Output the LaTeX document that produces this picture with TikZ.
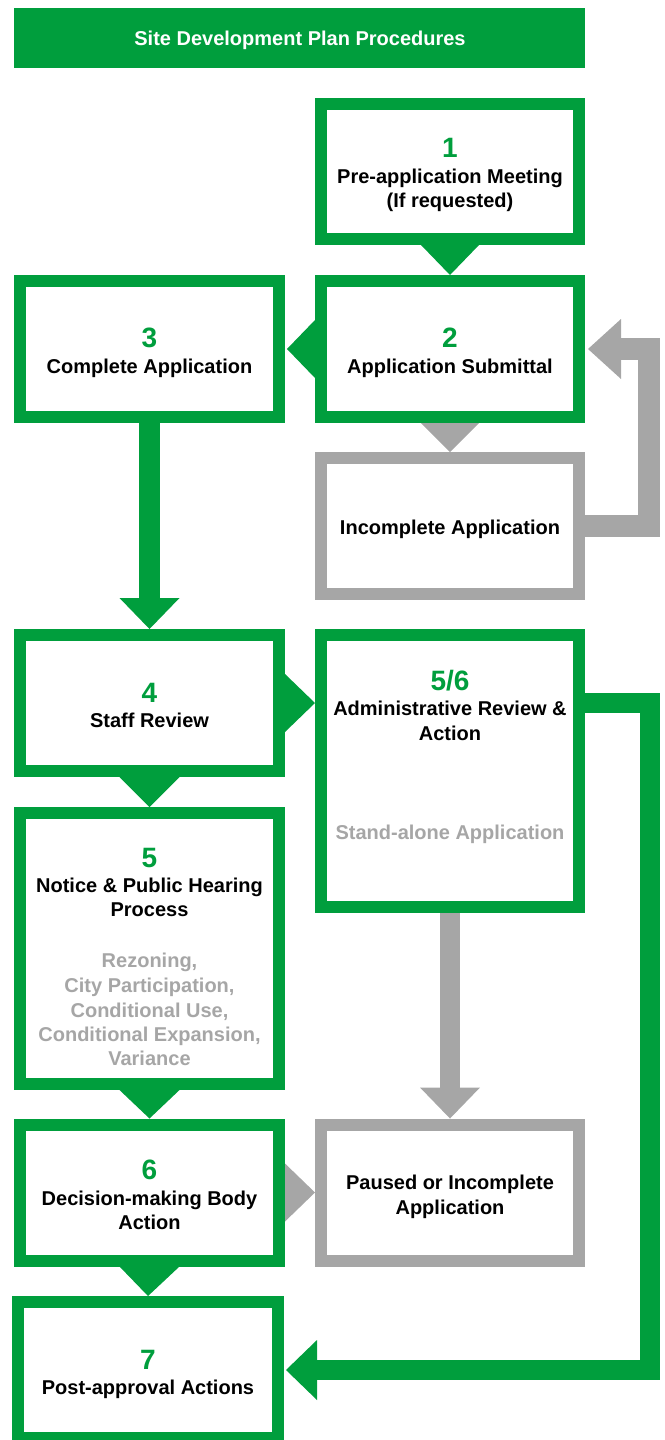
\documentclass[tikz,border=0pt]{standalone}
\usepackage{fontspec}
\setmainfont{Liberation Sans}
\usetikzlibrary{calc}
\definecolor{gr}{RGB}{0,158,61}
\definecolor{gy}{RGB}{166,166,166}
\begin{document}
\begin{tikzpicture}[x=1pt,y=-1pt,
  gbox/.style={draw=gr, line width=12pt, outer sep=6pt, inner sep=0pt, fill=white, minimum width=258pt, minimum height=136pt},
  ybox/.style={gbox, draw=gy},
  txt/.style={font=\bfseries\fontsize{20}{24}\selectfont, anchor=base, inner sep=0pt},
  num/.style={font=\bfseries\fontsize{28}{30}\selectfont, text=gr, anchor=base, inner sep=0pt},
  sub/.style={txt, text=gy},
  gfill/.style={fill=gr},
  yfill/.style={fill=gy},
  gshaft/.style={draw=gr, line width=20pt, line join=miter},
  yshaft/.style={draw=gy, line width=22pt, line join=miter}
]
\useasboundingbox (0,0) rectangle (664,1440);

% title
\node[fill=gr, minimum width=571pt, minimum height=60pt, inner sep=0pt] (title) at (299.5,38) {};
\node[txt, text=white] (tt) at (300,45) {Site Development Plan Procedures};

% boxes
\node[gbox, minimum height=135pt] (b1) at (450,171.5) {};
\node[gbox] (b2) at (450,349) {};
\node[gbox, minimum width=259pt] (b3) at (149.5,349) {};
\node[ybox] (inc) at (450,526) {};
\node[gbox, minimum width=259pt] (b4) at (149.5,703) {};
\node[gbox, minimum height=272pt] (b56) at (450,771) {};
\node[gbox, minimum width=259pt, minimum height=271pt] (b5) at (149.5,948.5) {};
\node[gbox, minimum width=259pt] (b6) at (149.5,1192.5) {};
\node[ybox] (pa) at (450,1192.5) {};
\node[gbox, minimum width=260pt] (b7) at (148,1370) {};

% texts
\node[num] (n1) at (450,157) {1};
\node[txt] (t1a) at (450,183) {Pre-application Meeting};
\node[txt] (t1b) at (450,207) {(If requested)};

\node[num] (n2) at (450,347) {2};
\node[txt] (t2) at (450,373) {Application Submittal};

\node[num] (n3) at (149.5,347) {3};
\node[txt] (t3) at (149.5,373) {Complete Application};

\node[txt] (tinc) at (450,534) {Incomplete Application};

\node[num] (n4) at (149.5,702) {4};
\node[txt] (t4) at (149.5,727) {Staff Review};

\node[num] (n56) at (450,690) {5/6};
\node[txt] (t56a) at (450,715) {Administrative Review \&};
\node[txt] (t56b) at (450,740) {Action};
\node[sub] (s56) at (450,839) {Stand-alone Application};

\node[num] (n5) at (149.5,867) {5};
\node[txt] (t5a) at (149.5,892) {Notice \& Public Hearing};
\node[txt] (t5b) at (149.5,916) {Process};
\node[sub] (s5a) at (149.5,967) {Rezoning,};
\node[sub] (s5b) at (149.5,992) {City Participation,};
\node[sub] (s5c) at (149.5,1017) {Conditional Use,};
\node[sub] (s5d) at (149.5,1041) {Conditional Expansion,};
\node[sub] (s5e) at (149.5,1065) {Variance};

\node[num] (n6) at (149.5,1179) {6};
\node[txt] (t6a) at (149.5,1205) {Decision-making Body};
\node[txt] (t6b) at (149.5,1229) {Action};

\node[txt] (tpa) at (450,1189) {Paused or Incomplete};
\node[txt] (tpb) at (450,1214) {Application};

\node[num] (n7) at (148,1369) {7};
\node[txt] (t7) at (148,1394) {Post-approval Actions};

% triangle connectors
\fill[gfill] ($(b1.south)+(-29,0)$) -- ($(b1.south)+(29,0)$) -- (b2.north) -- cycle;
\fill[gfill] ($(b2.west)+(0,-29)$) -- ($(b2.west)+(0,29)$) -- ($(b3.east)+(2,0)$) -- cycle;
\fill[yfill] ($(b2.south)+(-29,0)$) -- ($(b2.south)+(29,0)$) -- (inc.north) -- cycle;
\fill[gfill] ($(b4.east)+(0,-29)$) -- ($(b4.east)+(0,29)$) -- (b4.east -| b56.west) -- cycle;
\fill[gfill] ($(b4.south)+(-30,0)$) -- ($(b4.south)+(30,0)$) -- (b5.north) -- cycle;
\fill[gfill] ($(b5.south)+(-30,0)$) -- ($(b5.south)+(30,0)$) -- (b6.north) -- cycle;
\fill[gfill] ($(b6.south)+(-30,0)$) -- ($(b6.south)+(30,0)$) -- (b7.north) -- cycle;
\fill[yfill] ($(b6.east)+(0,-29)$) -- ($(b6.east)+(0,29)$) -- (pa.west) -- cycle;

% 3 -> 4
\draw[gshaft, line width=21pt] (b3.south) -- ($(b4.north)+(0,-31)$);
\fill[gfill] ($(b4.north)+(-30,-31)$) -- ($(b4.north)+(30,-31)$) -- (b4.north) -- cycle;

% incomplete -> 2 (return)
\draw[yshaft] (inc.east) -- ++(64,0) |- ($(b2.east)+(36,0)$);
\fill[yfill] ($(b2.east)+(36,-30)$) -- ($(b2.east)+(36,30)$) -- ($(b2.east)+(3,0)$) -- cycle;

% 5/6 -> paused
\draw[draw=gy, line width=20pt] (b56.south) -- ($(pa.north)+(0,-31)$);
\fill[yfill] ($(pa.north)+(-30,-31)$) -- ($(pa.north)+(30,-31)$) -- (pa.north) -- cycle;

% 5/6 -> 7
\draw[gshaft] (b4.east -| b56.east) -- ++(65,0) |- ($(b7.east)+(33,0)$);
\fill[gfill] ($(b7.east)+(33,-30)$) -- ($(b7.east)+(33,30)$) -- ($(b7.east)+(2,0)$) -- cycle;
\end{tikzpicture}
\end{document}
